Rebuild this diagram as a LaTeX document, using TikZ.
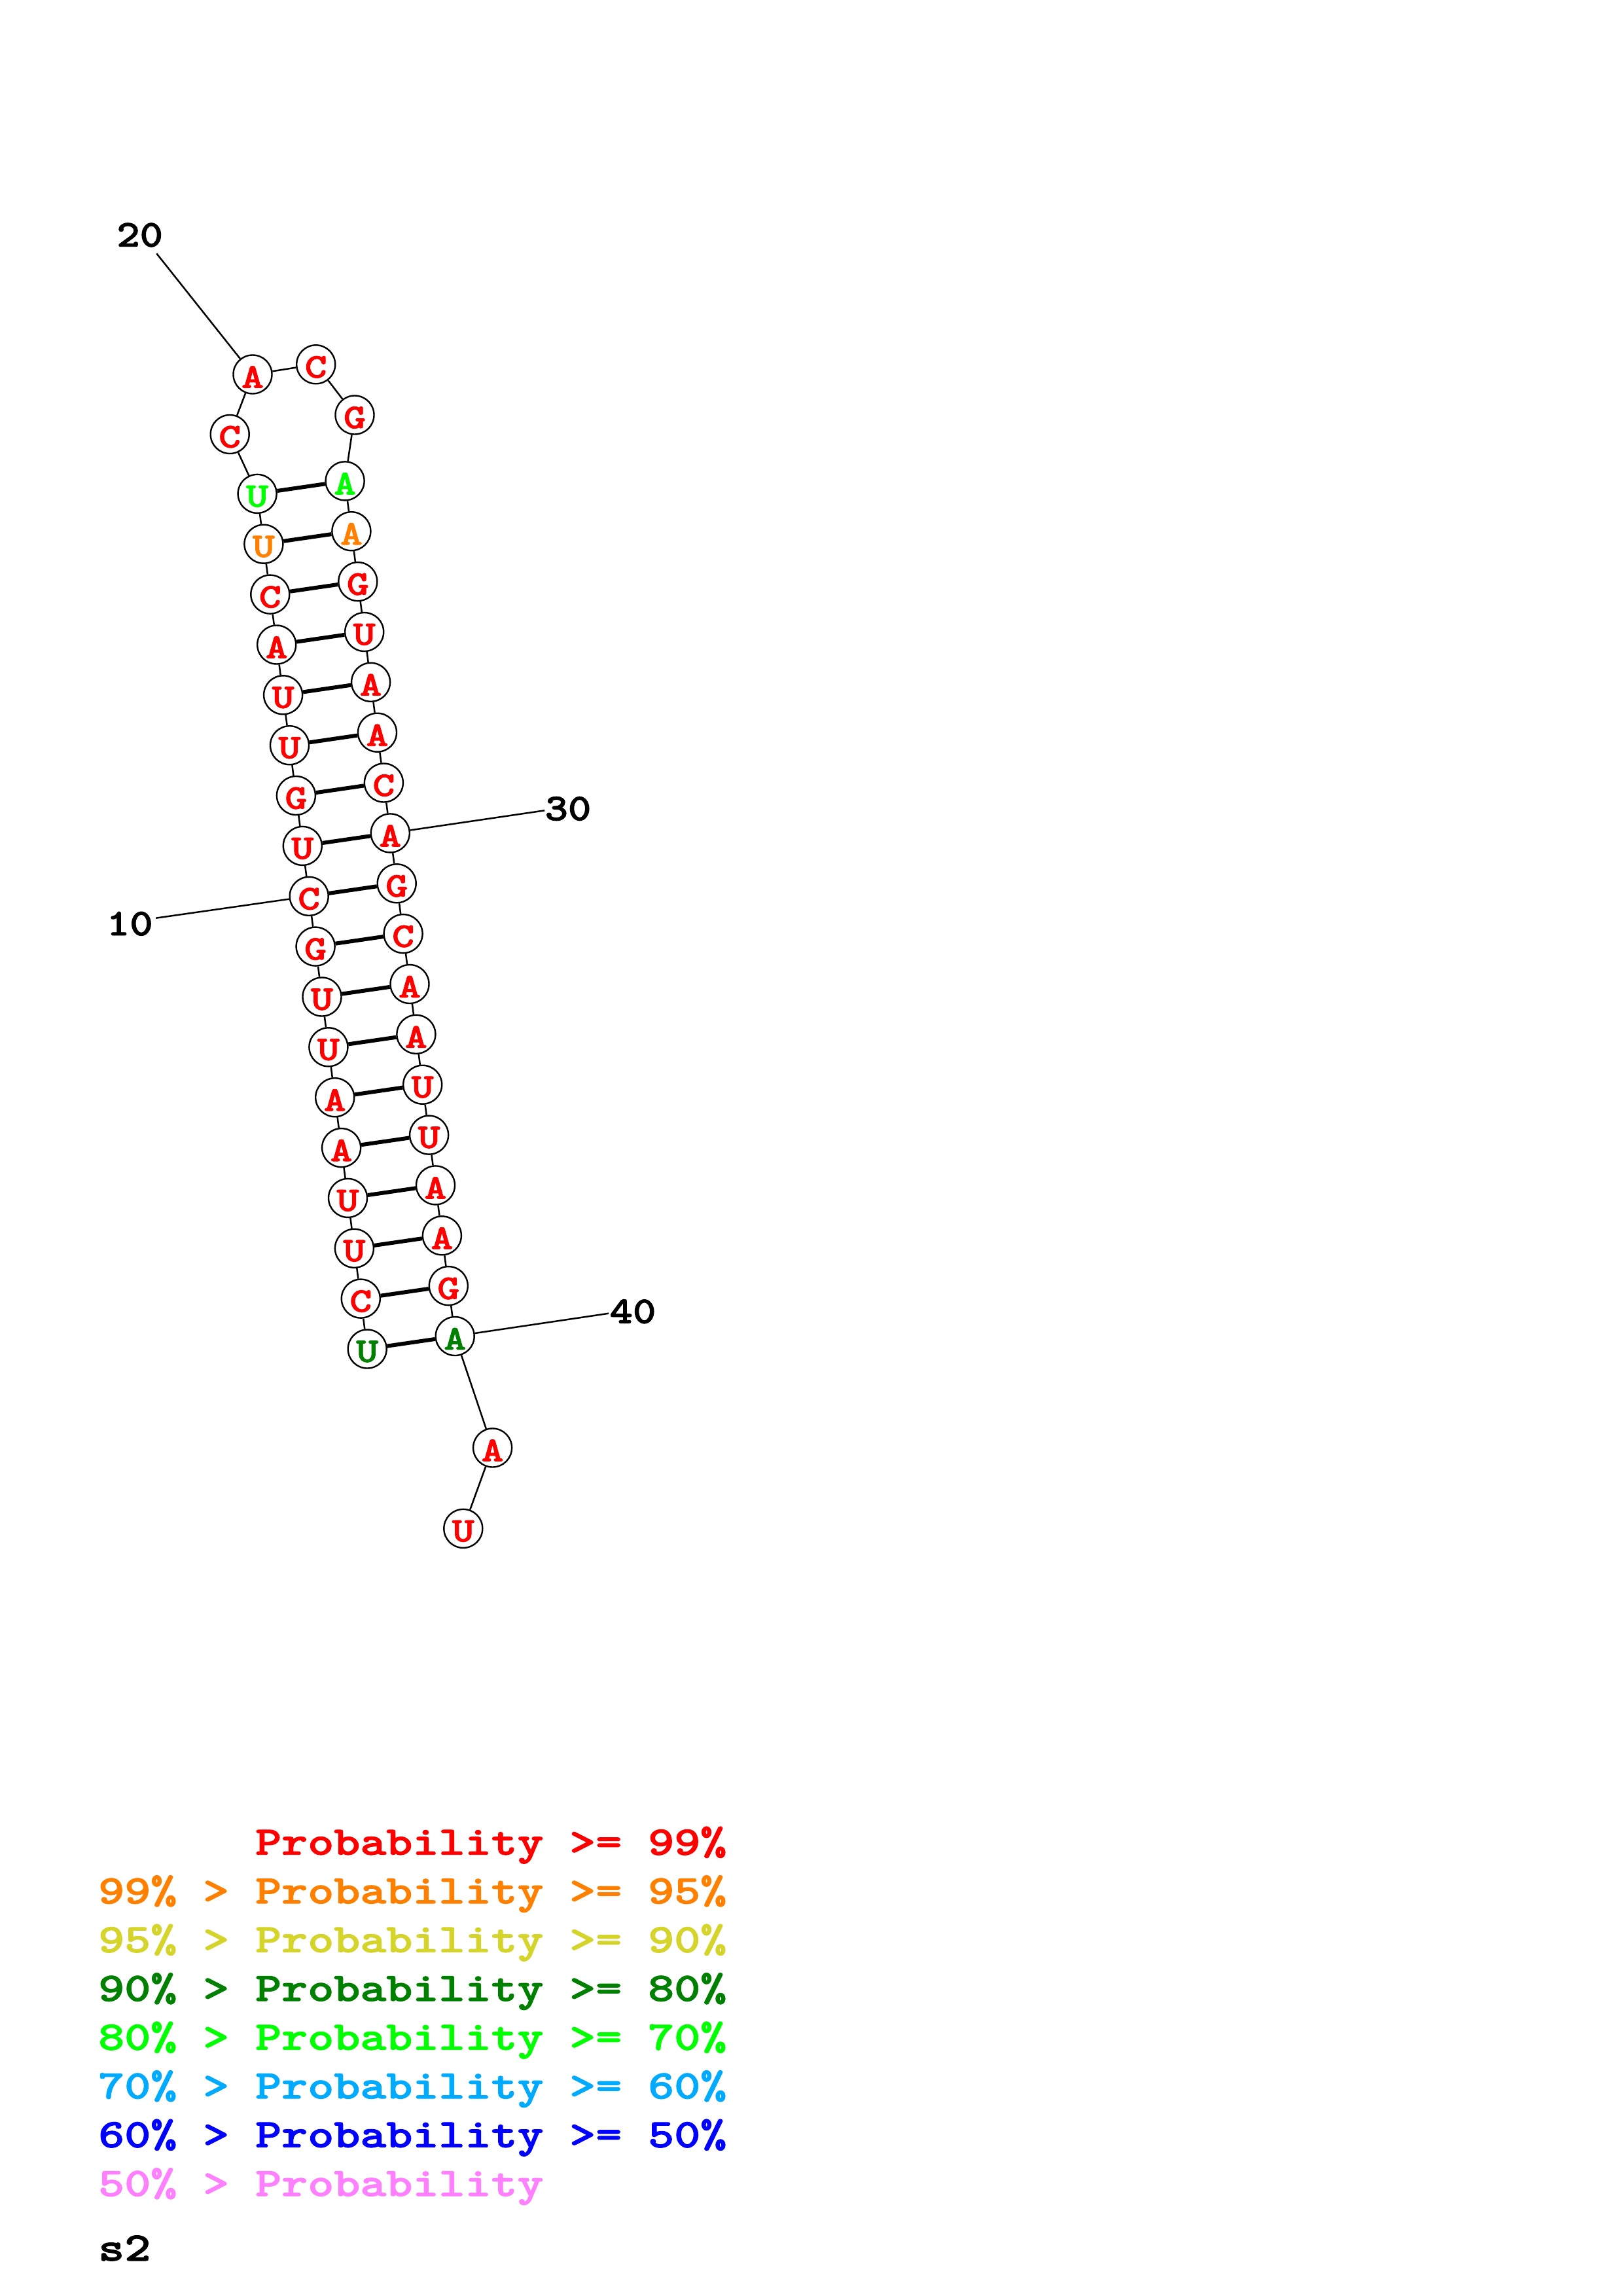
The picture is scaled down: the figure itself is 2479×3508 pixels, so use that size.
\documentclass[tikz,border=0pt]{standalone}
\usepackage{graphicx}
\usepackage{fontspec}
\newfontfamily\cbf{lmmonolt10-bold.otf}[FakeBold=1.5]
\definecolor{pr99}{RGB}{255,0,0}
\definecolor{pr95}{RGB}{255,128,0}
\definecolor{pr90}{RGB}{212,212,42}
\definecolor{pr80}{RGB}{0,128,0}
\definecolor{pr70}{RGB}{0,255,0}
\definecolor{pr60}{RGB}{0,170,255}
\definecolor{pr50}{RGB}{0,0,255}
\definecolor{prlo}{RGB}{255,128,255}
\newcommand\ntx[1]{\scalebox{1.22}[1]{\raisebox{-4pt}[\height][\depth]{#1}}}
\newcommand\lbx[1]{\scalebox{1.16}[1]{#1}}
\newcommand\lgx[1]{\scalebox{1.23}[1]{#1}}
\tikzset{
  nuc/.style={circle, draw=black, line width=2.4pt, fill=white, minimum size=59pt,
    inner sep=0pt, text=pr99, font=\cbf\fontsize{53}{60}\selectfont},
  bb/.style={line width=2.5pt, black},
  bp/.style={line width=6pt, black},
  numlab/.style={inner sep=0pt, anchor=center, text=black, font=\cbf\fontsize{58}{66}\selectfont},
  leg/.style={inner sep=0pt, anchor=base west, font=\cbf\fontsize{62}{70}\selectfont}
}
\begin{document}
\begin{tikzpicture}[x=1pt,y=-1pt]
\useasboundingbox (0,0) rectangle (2479,3508);
\fill[white] (0,0) rectangle (2479,3508);
% nucleotides
\node[nuc,text=pr80] (n1) at (561.2,2061.0) {\ntx{U}};
\node[nuc] (n2) at (551.3,1984.1) {\ntx{C}};
\node[nuc] (n3) at (541.4,1907.3) {\ntx{U}};
\node[nuc] (n4) at (531.5,1830.4) {\ntx{U}};
\node[nuc] (n5) at (521.6,1753.6) {\ntx{A}};
\node[nuc] (n6) at (511.7,1676.7) {\ntx{A}};
\node[nuc] (n7) at (501.9,1599.8) {\ntx{U}};
\node[nuc] (n8) at (492.0,1523.0) {\ntx{U}};
\node[nuc] (n9) at (482.1,1446.1) {\ntx{G}};
\node[nuc] (n10) at (472.2,1369.3) {\ntx{C}};
\node[nuc] (n11) at (462.3,1292.4) {\ntx{U}};
\node[nuc] (n12) at (452.4,1215.5) {\ntx{G}};
\node[nuc] (n13) at (442.5,1138.7) {\ntx{U}};
\node[nuc] (n14) at (432.6,1061.8) {\ntx{U}};
\node[nuc] (n15) at (422.7,985.0) {\ntx{A}};
\node[nuc] (n16) at (412.8,908.1) {\ntx{C}};
\node[nuc,text=pr95] (n17) at (402.9,831.2) {\ntx{U}};
\node[nuc,text=pr70] (n18) at (393.1,754.4) {\ntx{U}};
\node[nuc] (n19) at (351.2,663.5) {\ntx{C}};
\node[nuc] (n20) at (386.0,572.0) {\ntx{A}};
\node[nuc] (n21) at (482.7,556.8) {\ntx{C}};
\node[nuc] (n22) at (542.0,634.0) {\ntx{G}};
\node[nuc,text=pr70] (n23) at (527.1,734.9) {\ntx{A}};
\node[nuc,text=pr95] (n24) at (536.9,811.7) {\ntx{A}};
\node[nuc] (n25) at (546.8,888.6) {\ntx{G}};
\node[nuc] (n26) at (556.7,965.5) {\ntx{U}};
\node[nuc] (n27) at (566.6,1042.3) {\ntx{A}};
\node[nuc] (n28) at (576.5,1119.2) {\ntx{A}};
\node[nuc] (n29) at (586.4,1196.0) {\ntx{C}};
\node[nuc] (n30) at (596.3,1272.9) {\ntx{A}};
\node[nuc] (n31) at (606.2,1349.8) {\ntx{G}};
\node[nuc] (n32) at (616.1,1426.6) {\ntx{C}};
\node[nuc] (n33) at (626.0,1503.5) {\ntx{A}};
\node[nuc] (n34) at (635.9,1580.3) {\ntx{A}};
\node[nuc] (n35) at (645.7,1657.2) {\ntx{U}};
\node[nuc] (n36) at (655.6,1734.1) {\ntx{U}};
\node[nuc] (n37) at (665.5,1810.9) {\ntx{A}};
\node[nuc] (n38) at (675.4,1887.8) {\ntx{A}};
\node[nuc] (n39) at (685.3,1964.6) {\ntx{G}};
\node[nuc,text=pr80] (n40) at (695.2,2041.5) {\ntx{A}};
\node[nuc] (n41) at (752.6,2212.0) {\ntx{A}};
\node[nuc] (n42) at (707.8,2335.4) {\ntx{U}};
% backbone
\foreach \i [evaluate=\i as \j using int(\i+1)] in {1,...,41}
  \draw[bb] (n\i) -- (n\j);
% base pairs
\foreach \i [evaluate=\i as \j using int(41-\i)] in {1,...,18}
  \draw[bp] (n\i) -- (n\j);
% numbering
\coordinate (e10) at (238.3,1402.7);
\coordinate (e20) at (239.3,387.3);
\coordinate (e30) at (832.2,1238.3);
\coordinate (e40) at (930.1,2006.7);
\draw[bb] (n10) -- (e10);
\draw[bb] (n20) -- (e20);
\draw[bb] (n30) -- (e30);
\draw[bb] (n40) -- (e40);
\node[numlab] (t10) at (198.3,1411.3) {\lbx{10}};
\node[numlab] (t20) at (213.7,359.0) {\lbx{20}};
\node[numlab] (t30) at (868.0,1235.5) {\lbx{30}};
\node[numlab] (t40) at (967.0,2003.8) {\lbx{40}};
% legend
\node[leg,text=pr99] (c1) at (390,2833.7) {\lgx{Probability}};
\node[leg,text=pr99] (d1) at (870,2833.7) {\lgx{>=}};
\node[leg,text=pr99] (e1) at (990,2833.7) {\lgx{99\%}};
\node[leg,text=pr95] (a2) at (150,2908.2) {\lgx{99\%}};
\node[leg,text=pr95] (b2) at (310,2908.2) {\lgx{>}};
\node[leg,text=pr95] (c2) at (390,2908.2) {\lgx{Probability}};
\node[leg,text=pr95] (d2) at (870,2908.2) {\lgx{>=}};
\node[leg,text=pr95] (e2) at (990,2908.2) {\lgx{95\%}};
\node[leg,text=pr90] (a3) at (150,2982.7) {\lgx{95\%}};
\node[leg,text=pr90] (b3) at (310,2982.7) {\lgx{>}};
\node[leg,text=pr90] (c3) at (390,2982.7) {\lgx{Probability}};
\node[leg,text=pr90] (d3) at (870,2982.7) {\lgx{>=}};
\node[leg,text=pr90] (e3) at (990,2982.7) {\lgx{90\%}};
\node[leg,text=pr80] (a4) at (150,3057.2) {\lgx{90\%}};
\node[leg,text=pr80] (b4) at (310,3057.2) {\lgx{>}};
\node[leg,text=pr80] (c4) at (390,3057.2) {\lgx{Probability}};
\node[leg,text=pr80] (d4) at (870,3057.2) {\lgx{>=}};
\node[leg,text=pr80] (e4) at (990,3057.2) {\lgx{80\%}};
\node[leg,text=pr70] (a5) at (150,3131.7) {\lgx{80\%}};
\node[leg,text=pr70] (b5) at (310,3131.7) {\lgx{>}};
\node[leg,text=pr70] (c5) at (390,3131.7) {\lgx{Probability}};
\node[leg,text=pr70] (d5) at (870,3131.7) {\lgx{>=}};
\node[leg,text=pr70] (e5) at (990,3131.7) {\lgx{70\%}};
\node[leg,text=pr60] (a6) at (150,3206.2) {\lgx{70\%}};
\node[leg,text=pr60] (b6) at (310,3206.2) {\lgx{>}};
\node[leg,text=pr60] (c6) at (390,3206.2) {\lgx{Probability}};
\node[leg,text=pr60] (d6) at (870,3206.2) {\lgx{>=}};
\node[leg,text=pr60] (e6) at (990,3206.2) {\lgx{60\%}};
\node[leg,text=pr50] (a7) at (150,3280.7) {\lgx{60\%}};
\node[leg,text=pr50] (b7) at (310,3280.7) {\lgx{>}};
\node[leg,text=pr50] (c7) at (390,3280.7) {\lgx{Probability}};
\node[leg,text=pr50] (d7) at (870,3280.7) {\lgx{>=}};
\node[leg,text=pr50] (e7) at (990,3280.7) {\lgx{50\%}};
\node[leg,text=prlo] (a8) at (150,3355.2) {\lgx{50\%}};
\node[leg,text=prlo] (b8) at (310,3355.2) {\lgx{>}};
\node[leg,text=prlo] (c8) at (390,3355.2) {\lgx{Probability}};
\node[leg,text=black] (s2) at (150,3454.0) {\lgx{s2}};
\end{tikzpicture}
\end{document}
